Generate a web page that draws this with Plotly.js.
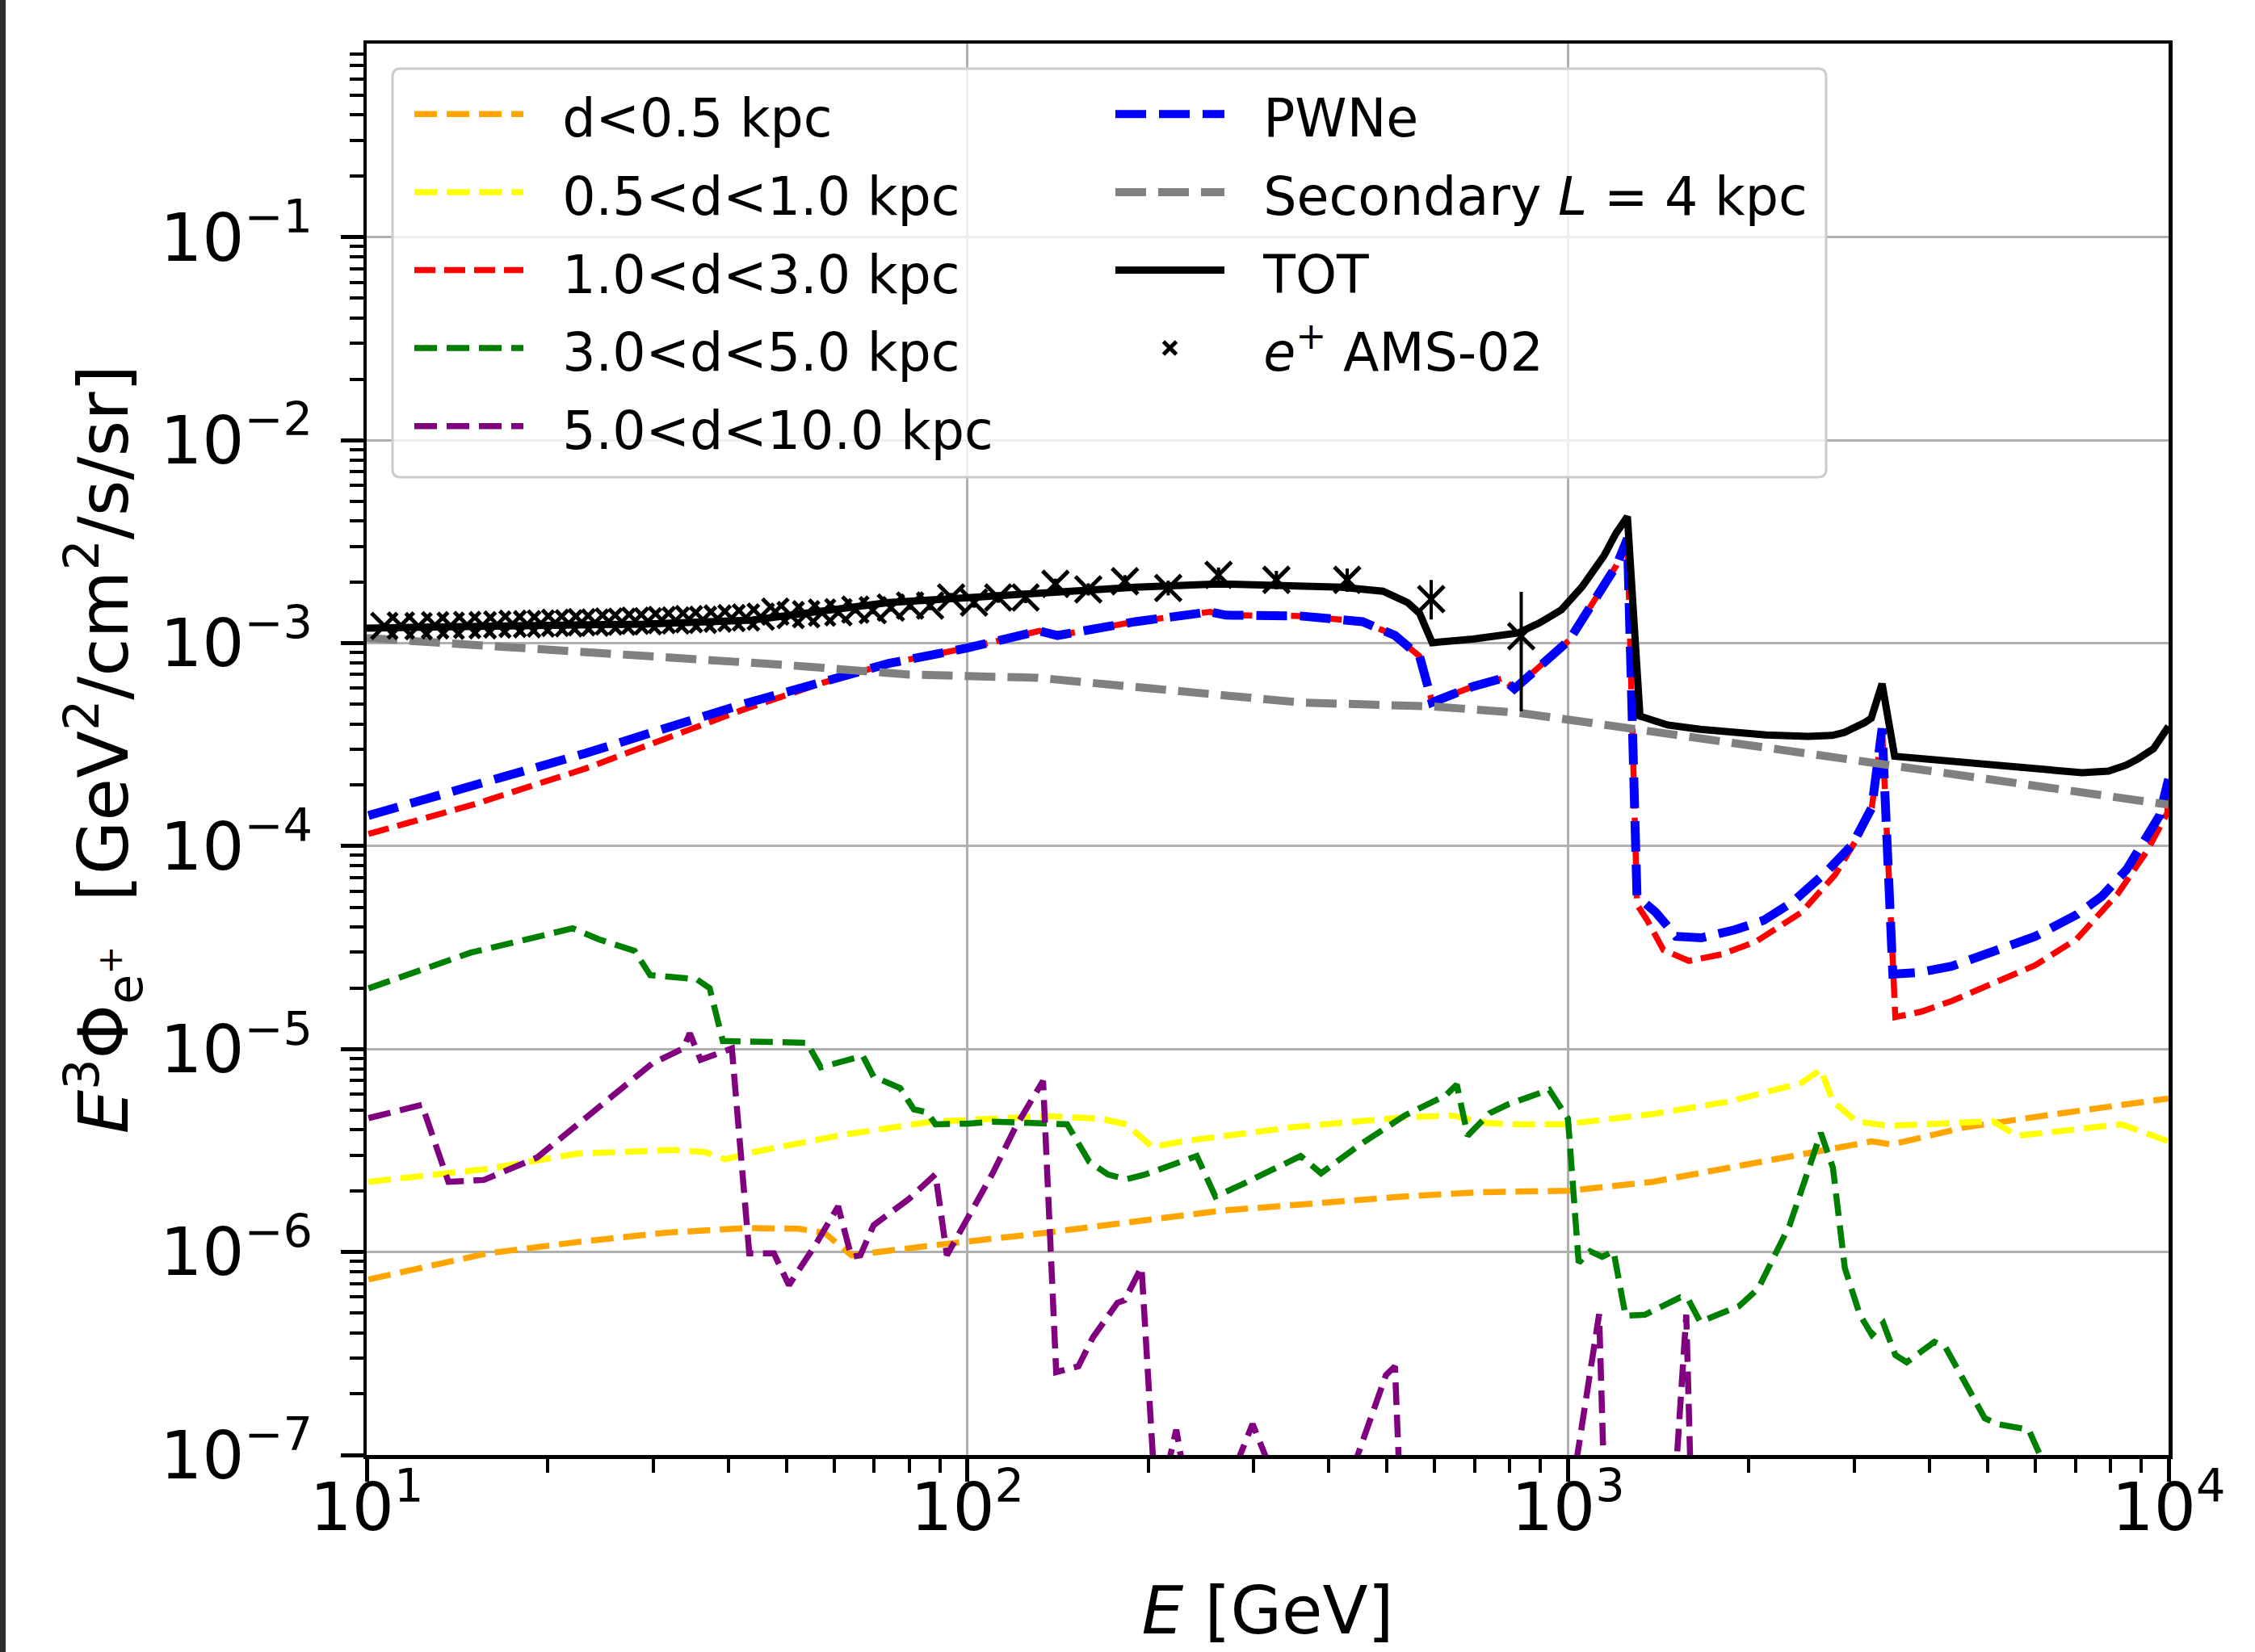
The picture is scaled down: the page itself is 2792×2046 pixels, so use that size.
<!DOCTYPE html>
<html><head><meta charset="utf-8">
<script src="https://cdn.plot.ly/plotly-3.0.1.min.js"></script>
<style>html,body{margin:0;padding:0;background:#fff;} #chart{width:2792px;height:2046px;}</style>
</head><body><div id="chart"></div>
<script>
// ---------------- data (E in GeV, E^3 * flux in GeV^2/cm^2/s/sr) ----------------
const orangeE = [10.07, 15.92, 22.39, 31.48, 42.66, 52.36, 57.81, 64.12, 87.1, 135.5, 263, 534.6, 711.2, 1000, 1384, 1866, 2636, 3206, 3459, 4592, 6209, 10000];
const orangeFlux = [7.33e-7, 9.86e-7, 1.119e-6, 1.245e-6, 1.312e-6, 1.303e-6, 1.245e-6, 9.64e-7, 1.076e-6, 1.245e-6, 1.596e-6, 1.879e-6, 1.972e-6, 2.004e-6, 2.218e-6, 2.612e-6, 3.17e-6, 3.508e-6, 3.388e-6, 4.121e-6, 4.70e-6, 5.71e-6];

const yellowE = [10.07, 15.92, 22.39, 32.51, 36.56, 39.54, 44.16, 61.94, 87.1, 135.5, 166.7, 184.1, 203.2, 228, 348.3, 534.6, 642.7, 731.1, 818.5, 984, 1186, 1384, 1866, 2449, 2636, 2761, 3020, 3404, 5105, 5585, 8356, 10000];
const yellowFlux = [2.218e-6, 2.57e-6, 3.055e-6, 3.184e-6, 3.112e-6, 2.864e-6, 3.112e-6, 3.776e-6, 4.385e-6, 4.677e-6, 4.539e-6, 4.256e-6, 3.289e-6, 3.508e-6, 4.121e-6, 4.613e-6, 4.70e-6, 4.325e-6, 4.256e-6, 4.256e-6, 4.539e-6, 4.786e-6, 5.53e-6, 6.82e-6, 7.93e-6, 5.53e-6, 4.406e-6, 4.188e-6, 4.406e-6, 3.74e-6, 4.256e-6, 3.508e-6];

const redE = [10.07, 15.14, 23.12, 41.98, 57.5, 73.96, 99.8, 131.8, 141.3, 190.5, 253.5, 269.2, 358.1, 455, 515.2, 566.2, 594.3, 695.0, 778, 814.7, 1004.6, 1205, 1256, 1303, 1355, 1442, 1589, 1803, 2051, 2449, 2786, 3062, 3206, 3334, 3508, 3882, 4355, 5105, 5998, 7031, 8241, 9226, 9954, 10000];
const redFlux = [1.148e-4, 1.61e-4, 2.41e-4, 4.66e-4, 6.38e-4, 7.94e-4, 9.46e-4, 1.148e-3, 1.091e-3, 1.276e-3, 1.426e-3, 1.374e-3, 1.361e-3, 1.276e-3, 1.091e-3, 8.61e-4, 5.11e-4, 6.12e-4, 6.71e-4, 5.96e-4, 1.033e-3, 2.421e-3, 3.273e-3, 5.16e-5, 4.31e-5, 3.08e-5, 2.72e-5, 2.93e-5, 3.37e-5, 4.72e-5, 7.24e-5, 1.148e-4, 1.549e-4, 3.80e-4, 1.436e-5, 1.531e-5, 1.726e-5, 2.128e-5, 2.588e-5, 3.48e-5, 5.85e-5, 9.55e-5, 1.459e-4, 1.905e-4];

const greenE = [10.07, 14.89, 22.03, 24.38, 27.93, 29.65, 35.4, 37.24, 39.17, 54.08, 57.02, 66.99, 69.82, 77.27, 81.47, 85.7, 88.5, 99.8, 110.4, 129.1, 146.6, 159.6, 171.4, 184.1, 197.7, 241, 258.8, 285.8, 358.9, 388.1, 450.8, 534.6, 625.2, 653.1, 680.8, 741.3, 796.2, 931.1, 1000, 1042, 1089, 1140, 1191, 1247, 1343, 1538, 1585, 1660, 1928, 2075, 2339, 2512, 2636, 2761, 2891, 3062, 3206, 3350, 3508, 3664, 4074, 4256, 4943, 5176, 5848, 6109, 6457];
const greenFlux = [1.991e-5, 2.985e-5, 3.936e-5, 3.467e-5, 3.048e-5, 2.312e-5, 2.213e-5, 1.995e-5, 1.096e-5, 1.074e-5, 8.13e-6, 9.25e-6, 7.31e-6, 6.43e-6, 5.05e-6, 4.88e-6, 4.26e-6, 4.29e-6, 4.39e-6, 4.33e-6, 4.26e-6, 2.786e-6, 2.41e-6, 2.286e-6, 2.41e-6, 2.972e-6, 1.879e-6, 2.143e-6, 2.972e-6, 2.443e-6, 3.388e-6, 4.70e-6, 5.90e-6, 6.68e-6, 3.74e-6, 4.84e-6, 5.35e-6, 6.30e-6, 4.54e-6, 8.87e-7, 1.009e-6, 9.46e-7, 1.009e-6, 4.85e-7, 4.91e-7, 5.98e-7, 5.87e-7, 4.53e-7, 5.42e-7, 6.62e-7, 1.355e-6, 2.523e-6, 3.864e-6, 2.612e-6, 8.32e-7, 4.91e-7, 3.91e-7, 4.46e-7, 3.11e-7, 2.864e-7, 3.606e-7, 3.38e-7, 1.517e-7, 1.422e-7, 1.334e-7, 1.0e-7, 5.0e-8];

const purpleE = [10.07, 12.36, 13.68, 15.67, 19.23, 23.12, 29.85, 33.65, 34.51, 35.97, 40.55, 43.35, 47.64, 50.47, 55.98, 60.95, 64.12, 66.37, 69.82, 79.98, 88.5, 92.47, 110.4, 120.2, 133.7, 140.6, 153.1, 161.8, 177.8, 182.8, 195, 206.5, 222.8, 234.4, 263, 298.5, 338.8, 416.9, 497.7, 515.2, 527.2, 1000, 1127, 1153, 1496, 1574, 1607, 10000];
const purpleFlux = [4.57e-6, 5.31e-6, 2.218e-6, 2.265e-6, 2.924e-6, 4.57e-6, 8.47e-6, 1.007e-5, 1.197e-5, 8.85e-6, 1.007e-5, 9.86e-7, 9.86e-7, 6.87e-7, 1.096e-6, 1.679e-6, 9.46e-7, 9.64e-7, 1.355e-6, 1.828e-6, 2.415e-6, 9.64e-7, 2.466e-6, 4.11e-6, 6.97e-6, 2.559e-7, 2.735e-7, 3.793e-7, 5.62e-7, 5.79e-7, 8.43e-7, 5.0e-8, 1.334e-7, 5.6e-8, 5.6e-8, 1.422e-7, 5.6e-8, 5.6e-8, 2.477e-7, 2.735e-7, 5.0e-8, 5.0e-8, 4.94e-7, 5.0e-8, 5.0e-8, 4.91e-7, 5.0e-8, 3.16e-8];

const pwneE = [10.07, 15.14, 23.12, 41.98, 73.96, 99.8, 131.8, 141.3, 190.5, 253.5, 269.2, 358.1, 455, 515.2, 566.2, 594.3, 695.0, 778, 814.7, 1004.6, 1205, 1256, 1303, 1400, 1514, 1667, 1897, 2118, 2371, 2692, 2972, 3206, 3334, 3475, 3828, 4355, 5105, 5998, 7031, 7745, 8511, 9661, 10000];
const pwneFlux = [1.416e-4, 1.986e-4, 2.864e-4, 4.97e-4, 7.94e-4, 9.46e-4, 1.148e-3, 1.091e-3, 1.276e-3, 1.426e-3, 1.374e-3, 1.361e-3, 1.276e-3, 1.091e-3, 8.61e-4, 5.11e-4, 6.12e-4, 6.71e-4, 5.96e-4, 1.033e-3, 2.421e-3, 3.273e-3, 5.66e-5, 4.72e-5, 3.59e-5, 3.53e-5, 3.87e-5, 4.31e-5, 5.33e-5, 7.46e-5, 1.012e-4, 1.549e-4, 3.80e-4, 2.34e-5, 2.38e-5, 2.56e-5, 2.99e-5, 3.59e-5, 4.59e-5, 5.66e-5, 7.66e-5, 1.413e-4, 2.14e-4];

const secondaryE = [10, 20, 35, 50, 80, 131, 200, 358, 594, 826, 1000, 1288, 2000, 3326, 5000, 7000, 10000];
const secondaryFlux = [1.06e-3, 9.3e-4, 8.4e-4, 7.8e-4, 7.0e-4, 6.75e-4, 6.0e-4, 5.1e-4, 4.88e-4, 4.54e-4, 4.2e-4, 3.78e-4, 3.13e-4, 2.52e-4, 2.13e-4, 1.85e-4, 1.6e-4];

const totE = [10, 28.9, 43.8, 73.96, 101.4, 139, 190.5, 261.2, 358.1, 419.8, 492, 540.8, 566.2, 594.3, 695, 826, 897.5, 975, 1057, 1148, 1202, 1256, 1318, 1466, 1660, 1871, 2138, 2512, 2754, 2884, 3020, 3126, 3199, 3334, 3499, 4256, 5012, 5902, 6607, 7178, 7943, 8511, 8892, 9441, 10000];
const totFlux = [1.186e-3, 1.242e-3, 1.300e-3, 1.585e-3, 1.679e-3, 1.786e-3, 1.888e-3, 1.959e-3, 1.923e-3, 1.888e-3, 1.803e-3, 1.585e-3, 1.403e-3, 1.005e-3, 1.047e-3, 1.122e-3, 1.259e-3, 1.459e-3, 1.905e-3, 2.692e-3, 3.47e-3, 4.2e-3, 4.37e-4, 3.95e-4, 3.76e-4, 3.63e-4, 3.53e-4, 3.47e-4, 3.51e-4, 3.63e-4, 3.85e-4, 4.07e-4, 4.27e-4, 6.31e-4, 2.77e-4, 2.63e-4, 2.49e-4, 2.39e-4, 2.32e-4, 2.30e-4, 2.34e-4, 2.51e-4, 2.69e-4, 3.02e-4, 3.89e-4];

const amsE = [10.7, 11.4, 12.2, 13.0, 13.8, 14.7, 15.6, 16.5, 17.5, 18.5, 19.5, 20.6, 21.7, 22.8, 24.0, 25.3, 26.6, 28.0, 29.4, 31.0, 32.7, 34.4, 36.3, 38.4, 40.5, 42.8, 45.3, 47.9, 50.8, 53.9, 57.3, 61.0, 65.1, 69.6, 74.6, 80.3, 86.7, 94.0, 102.6, 112.6, 125.0, 140.2, 159.0, 183.0, 216.0, 262.0, 327.0, 429.0, 592.0, 836.0];
const amsFlux = [1.216e-3, 1.222e-3, 1.213e-3, 1.225e-3, 1.219e-3, 1.230e-3, 1.225e-3, 1.236e-3, 1.245e-3, 1.239e-3, 1.250e-3, 1.259e-3, 1.253e-3, 1.268e-3, 1.262e-3, 1.279e-3, 1.274e-3, 1.291e-3, 1.282e-3, 1.300e-3, 1.294e-3, 1.312e-3, 1.303e-3, 1.321e-3, 1.330e-3, 1.337e-3, 1.349e-3, 1.429e-3, 1.374e-3, 1.387e-3, 1.413e-3, 1.419e-3, 1.462e-3, 1.452e-3, 1.496e-3, 1.531e-3, 1.531e-3, 1.679e-3, 1.585e-3, 1.679e-3, 1.679e-3, 1.959e-3, 1.841e-3, 2.018e-3, 1.871e-3, 2.168e-3, 2.051e-3, 2.051e-3, 1.648e-3, 1.081e-3];
const amsErrUp = [2.4e-5, 2.4e-5, 2.4e-5, 2.5e-5, 2.5e-5, 2.5e-5, 2.5e-5, 2.6e-5, 2.6e-5, 2.6e-5, 2.7e-5, 2.7e-5, 2.8e-5, 2.8e-5, 2.9e-5, 2.9e-5, 3.0e-5, 3.1e-5, 3.2e-5, 3.3e-5, 3.4e-5, 3.5e-5, 3.6e-5, 3.8e-5, 3.9e-5, 4.1e-5, 4.3e-5, 4.6e-5, 4.8e-5, 5.1e-5, 5.4e-5, 5.7e-5, 6.1e-5, 6.5e-5, 7.0e-5, 7.5e-5, 8.1e-5, 8.8e-5, 9.4e-5, 1.02e-4, 1.1e-4, 1.2e-4, 1.3e-4, 1.45e-4, 1.6e-4, 1.9e-4, 2.2e-4, 2.8e-4, 4.0e-4, 7.1e-4];
const amsErrDown = [2.3e-5, 2.3e-5, 2.3e-5, 2.4e-5, 2.4e-5, 2.4e-5, 2.4e-5, 2.5e-5, 2.5e-5, 2.5e-5, 2.6e-5, 2.6e-5, 2.7e-5, 2.7e-5, 2.8e-5, 2.8e-5, 2.9e-5, 3.0e-5, 3.1e-5, 3.2e-5, 3.3e-5, 3.4e-5, 3.5e-5, 3.7e-5, 3.8e-5, 4.0e-5, 4.2e-5, 4.4e-5, 4.6e-5, 4.9e-5, 5.2e-5, 5.5e-5, 5.9e-5, 6.3e-5, 6.7e-5, 7.2e-5, 7.8e-5, 8.4e-5, 9.0e-5, 9.8e-5, 1.05e-4, 1.15e-4, 1.25e-4, 1.38e-4, 1.52e-4, 1.8e-4, 2.1e-4, 2.6e-4, 3.4e-4, 6.2e-4];

const xTickVals = [10, 100, 1000, 10000];
const xTickText = ['10<sup>1</sup>', '10<sup>2</sup>', '10<sup>3</sup>', '10<sup>4</sup>'];
const yTickVals = [1e-7, 1e-6, 1e-5, 1e-4, 1e-3, 1e-2, 1e-1];
const yTickText = ['10<sup>\u22127</sup>', '10<sup>\u22126</sup>', '10<sup>\u22125</sup>', '10<sup>\u22124</sup>', '10<sup>\u22123</sup>', '10<sup>\u22122</sup>', '10<sup>\u22121</sup>'];

const seriesNames = ['d&lt;0.5 kpc', '0.5&lt;d&lt;1.0 kpc', '1.0&lt;d&lt;3.0 kpc', '3.0&lt;d&lt;5.0 kpc', '5.0&lt;d&lt;10.0 kpc', 'PWNe', 'Secondary <i>L</i> = 4 kpc', 'TOT', '<i>e</i><sup>+</sup> AMS-02'];

// ---------------- layout helpers ----------------
const W = 2792, H = 2046;
const M = {l: 454, r: 107, t: 54, b: 244};
const PW = W - M.l - M.r, PH = H - M.t - M.b;
const px2x = X => (X - M.l) / PW;
const px2y = Y => 1 - (Y - M.t) / PH;
const FONT = 'DejaVu Sans';
const LEG_FS = 65;
const lbl = s => '\u2002\u200A<span style="font-size:' + LEG_FS + 'px">' + s + '</span>';

function minorTicks(d0, d1, maxV) {
  const out = [];
  for (let d = d0; d <= d1; d++) for (let k = 2; k <= 9; k++) {
    const v = k * Math.pow(10, d);
    if (maxV === undefined || v <= maxV) out.push(v);
  }
  return out;
}

function dashLine(x, y, name, color, width, dash, rank) {
  return {type: 'scatter', mode: 'lines', x: x, y: y, name: lbl(name), legendrank: rank,
    line: {color: color, width: width, dash: dash}, hoverinfo: 'skip'};
}

const traces = [
  dashLine(orangeE, orangeFlux, seriesNames[0], 'orange', 7.5, '28px,12px', 1),
  dashLine(yellowE, yellowFlux, seriesNames[1], 'yellow', 7.5, '28px,12px', 3),
  dashLine(redE, redFlux, seriesNames[2], 'red', 7.5, '26px,11px', 5),
  dashLine(greenE, greenFlux, seriesNames[3], 'green', 7.5, '28px,12px', 7),
  dashLine(purpleE, purpleFlux, seriesNames[4], 'purple', 7.5, '28px,12px', 9),
  dashLine(pwneE, pwneFlux, seriesNames[5], 'blue', 11, '38px,16px', 2),
  dashLine(secondaryE, secondaryFlux, seriesNames[6], 'gray', 10, '38px,15px', 4),
  {type: 'scatter', mode: 'lines', x: totE, y: totFlux, name: lbl(seriesNames[7]), legendrank: 6,
   line: {color: 'black', width: 9}, hoverinfo: 'skip'},
  {type: 'scatter', mode: 'markers', x: amsE, y: amsFlux, name: lbl(seriesNames[8]), legendrank: 8,
   marker: {symbol: 'x-thin-open', size: 32, color: 'black', line: {color: 'black', width: 5}},
   error_y: {type: 'data', symmetric: false, array: amsErrUp, arrayminus: amsErrDown, color: 'black', thickness: 4, width: 0},
   hoverinfo: 'skip'}
];

// legend frame (matplotlib style fancy box)
const bx0 = px2x(486), bx1 = px2x(2261), byT = px2y(85), byB = px2y(591);
const rx = 10 / PW, ry = 10 / PH;
const boxPath = `M${bx0+rx},${byT} L${bx1-rx},${byT} Q${bx1},${byT} ${bx1},${byT-ry} L${bx1},${byB+ry} Q${bx1},${byB} ${bx1-rx},${byB} L${bx0+rx},${byB} Q${bx0},${byB} ${bx0},${byB+ry} L${bx0},${byT-ry} Q${bx0},${byT} ${bx0+rx},${byT} Z`;

const axisCommon = {
  type: 'log', showline: true, linecolor: 'black', linewidth: 4.5, mirror: true,
  ticks: 'outside', ticklen: 28, tickwidth: 5, tickcolor: 'black',
  tickfont: {family: FONT, size: 82, color: 'black'},
  showgrid: true, gridcolor: '#b0b0b0', gridwidth: 3, zeroline: false,
  tickmode: 'array', automargin: false
};

const layout = {
  width: W, height: H,
  margin: M,
  paper_bgcolor: 'white', plot_bgcolor: 'white',
  font: {family: FONT, color: 'black'},
  showlegend: true,
  xaxis: Object.assign({}, axisCommon, {
    range: [1, 4], tickvals: xTickVals, ticktext: xTickText, ticklabelstandoff: -38,
    minor: {tickmode: 'array', tickvals: minorTicks(1, 3), ticks: 'outside', ticklen: 17, tickwidth: 4, tickcolor: 'black', showgrid: false},
    title: {text: '<i>E</i> [GeV]', font: {family: FONT, size: 82, color: 'black'}, standoff: 54}
  }),
  yaxis: Object.assign({}, axisCommon, {
    range: [-7, -0.046], tickvals: yTickVals, ticktext: yTickText, ticklabelstandoff: 18,
    minor: {tickmode: 'array', tickvals: minorTicks(-7, -1, 0.89), ticks: 'outside', ticklen: 17, tickwidth: 4, tickcolor: 'black', showgrid: false},
    title: {text: '<i>E</i><sup>3</sup>\u03A6<sub>e<sup>+</sup></sub>  [GeV<sup>2</sup>/cm<sup>2</sup>/s/sr]', font: {family: FONT, size: 86, color: 'black'}, standoff: 12}
  }),
  legend: {
    orientation: 'h', x: px2x(508), xanchor: 'left', y: px2y(88), yanchor: 'top',
    bgcolor: 'rgba(0,0,0,0)', borderwidth: 0,
    font: {family: FONT, size: 72, color: 'black'},
    itemwidth: 135, entrywidth: 718, entrywidthmode: 'pixels', tracegroupgap: 0
  },
  shapes: [
    {type: 'path', xref: 'paper', yref: 'paper', path: boxPath, fillcolor: 'rgba(255,255,255,0.8)', line: {color: '#cccccc', width: 3}, layer: 'above'},
    {type: 'rect', xref: 'paper', yref: 'paper', x0: px2x(0), x1: px2x(7), y0: px2y(H), y1: px2y(0), fillcolor: '#2e2e2e', line: {width: 0}, layer: 'above'}
  ]
};

Plotly.newPlot('chart', traces, layout, {displayModeBar: false, staticPlot: true});
</script></body></html>
